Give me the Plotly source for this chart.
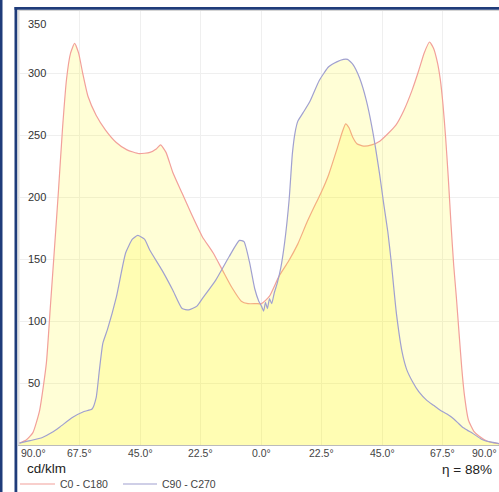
import plotly.graph_objects as go

# ---------------- data ----------------
c0_angles = [-90, -87.5, -85, -82.5, -80, -78.5, -77, -75.5, -74, -72.5, -71, -69.5, -68, -66.5,
             -64.5, -61.5, -58, -54, -50, -45.5, -41.5, -39, -37.5, -35.5, -33, -29.5, -26, -22,
             -18, -14.5, -11, -7.5, -5, -2, 0, 3, 6.5, 10, 13.5, 17, 20.5, 22.5, 25, 28, 30,
             31.3, 32.5, 34, 35.5, 38, 41, 44, 47, 50, 53, 56, 58.5, 60.5, 62.5, 64, 65.5, 66.5,
             67.5, 68.5, 69.5, 70.5, 71.5, 72.5, 73.5, 74.5, 75.5, 77, 79, 81, 84, 87, 90]
c0_values = [1.5, 4, 10, 28, 66, 112, 158, 205, 255, 295, 316, 324, 316, 300,
             281, 266, 254, 244, 238, 235, 236, 239, 242, 236, 220, 203, 186, 168,
             155, 141, 127, 116, 114, 114, 114, 120, 136, 148, 162, 180, 196, 205, 218, 238, 252,
             259, 256, 248, 243, 241, 242, 245, 251, 258, 270, 286, 302, 316, 325, 320, 308, 295,
             275, 248, 215, 178, 145, 119, 90, 62, 40, 20, 11, 7, 3, 1.5, 0.5]

c90_angles = [-90, -86, -81.5, -78, -75, -70.5, -66, -63, -61.5, -60.3, -59, -57.3, -54, -50.5,
              -48, -46, -43.5, -41.5, -37, -33, -29.5, -27, -24, -22, -17, -12, -8.2, -6.5, -4.5,
              -2.5, -1, 0, 0.8, 1.5, 2.2, 3, 3.8, 4.8, 5.8, 7.2, 8.6, 10.3, 11.5, 12.5, 13.5,
              15.5, 18, 21.5, 25, 28, 30.5, 32, 34, 36.5, 39, 41.3, 43.9, 45.5, 47, 48.3, 50.2,
              52.4, 54, 56.2, 58.5, 61.5, 64, 66.5, 69, 71, 73, 74.7, 76.5, 78.5, 82, 85, 90]
c90_values = [1.5, 3.5, 6, 10, 14.5, 22, 27, 29, 38, 60, 82, 93, 119, 155,
              166, 169, 166, 157, 141, 125, 110, 109, 112, 118, 133, 152, 165, 164, 148,
              126, 116, 112, 108, 115, 110, 118, 114, 123, 130, 143, 163, 198, 235, 252, 261,
              268, 277, 294, 305, 309, 311, 311, 307, 296, 278, 254, 219, 194, 172, 147, 106,
              74, 61, 51, 43, 36, 32, 28, 25, 22, 18, 14.5, 12, 9.5, 4.5, 2.5, 0.5]

x_tick_vals = [-90, -67.5, -45, -22.5, 0, 22.5, 45, 67.5, 90]
x_tick_text = ["90.0°", "67.5°", "45.0°", "22.5°", "0.0°", "22.5°", "45.0°", "67.5°", "90.0°"]
y_tick_vals = [50, 100, 150, 200, 250, 300, 350]
y_tick_text = ["50", "100", "150", "200", "250", "300", "350"]

series_names = ["C0 - C180", "C90 - C270"]
unit_label = "cd/klm"
efficiency_label = "η = 88%"

# ---------------- layout geometry ----------------
W, H = 499, 492
ML, MR, MT, MB = 18, 0, 11, 47
PW, PH = W - ML - MR, H - MT - MB


def px(xp):
    return (xp - ML) / PW


def py(yp):
    return (H - MB - yp) / PH


FONT = "Liberation Sans, Arial, sans-serif"
RED = "#F2A09A"
BLUE = "#A0A0D0"
FILL = "rgba(255,248,0,0.16)"

fig = go.Figure()
fig.add_trace(go.Scatter(x=c0_angles, y=c0_values, mode="lines", name=series_names[0],
                         line=dict(color=RED, width=1.2, shape="spline", smoothing=0.5),
                         fill="tozeroy", fillcolor=FILL, showlegend=False, hoverinfo="skip"))
fig.add_trace(go.Scatter(x=c90_angles, y=c90_values, mode="lines", name=series_names[1],
                         line=dict(color=BLUE, width=1.2, shape="spline", smoothing=0.5),
                         fill="tozeroy", fillcolor=FILL, showlegend=False, hoverinfo="skip"))

annotations = []
# y tick labels (inside plot)
for v, t in zip(y_tick_vals, y_tick_text):
    annotations.append(dict(x=px(26), xref="paper", y=v, yref="y", text=t, showarrow=False,
                            xanchor="left", yanchor="middle",
                            yshift=-13 if v == 350 else 0,
                            font=dict(family=FONT, size=11, color="#333333")))
# x tick labels
for i, (v, t) in enumerate(zip(x_tick_vals, x_tick_text)):
    if i == 0:
        a = dict(x=v, xref="x", xanchor="left")
    elif i == len(x_tick_vals) - 1:
        a = dict(x=1.0, xref="paper", xanchor="right")
    else:
        a = dict(x=v, xref="x", xanchor="center")
    a.update(y=py(453), yref="paper", yanchor="middle", text=t, showarrow=False,
             font=dict(family=FONT, size=10.5, color="#444444"))
    annotations.append(a)

annotations.append(dict(x=px(25), xref="paper", y=py(468), yref="paper", text=unit_label,
                        showarrow=False, xanchor="left", yanchor="middle",
                        font=dict(family=FONT, size=13.5, color="#222222")))
annotations.append(dict(x=px(494), xref="paper", y=py(469), yref="paper", text=efficiency_label,
                        showarrow=False, xanchor="right", yanchor="middle",
                        font=dict(family=FONT, size=13.5, color="#222222")))
annotations.append(dict(x=px(58), xref="paper", y=py(484), yref="paper", text=series_names[0],
                        showarrow=False, xanchor="left", yanchor="middle",
                        font=dict(family=FONT, size=10.5, color="#444444")))
annotations.append(dict(x=px(160), xref="paper", y=py(484), yref="paper", text=series_names[1],
                        showarrow=False, xanchor="left", yanchor="middle",
                        font=dict(family=FONT, size=10.5, color="#444444")))

NAVY = "#1F3C7A"
shapes = [
    # legend line samples
    dict(type="line", xref="paper", yref="paper", x0=px(20), x1=px(55), y0=py(484), y1=py(484),
         line=dict(color=RED, width=1.2)),
    dict(type="line", xref="paper", yref="paper", x0=px(123), x1=px(157), y0=py(484), y1=py(484),
         line=dict(color=BLUE, width=1.2)),
    # navy frame
    dict(type="rect", xref="paper", yref="paper", x0=px(0), x1=px(2.5), y0=py(492), y1=py(0),
         fillcolor=NAVY, line=dict(width=0), layer="above"),
    dict(type="rect", xref="paper", yref="paper", x0=px(14.5), x1=px(17.3), y0=py(492), y1=py(7),
         fillcolor=NAVY, line=dict(width=0), layer="above"),
    dict(type="rect", xref="paper", yref="paper", x0=px(14.5), x1=px(499), y0=py(9.7), y1=py(7),
         fillcolor=NAVY, line=dict(width=0), layer="above"),
    # light plot-area border (left & top)
    dict(type="line", xref="paper", yref="paper", x0=px(18.2), x1=px(18.2), y0=0, y1=py(10.5),
         line=dict(color="#D4D4D4", width=1)),
    dict(type="line", xref="paper", yref="paper", x0=px(18.2), x1=1, y0=py(10.5), y1=py(10.5),
         line=dict(color="#D4D4D4", width=1)),
]

fig.update_layout(
    width=W, height=H,
    margin=dict(l=ML, r=MR, t=MT, b=MB, pad=0),
    paper_bgcolor="white", plot_bgcolor="white",
    showlegend=False,
    xaxis=dict(range=[-90.55, 88.35], tickvals=x_tick_vals, showticklabels=False,
               showgrid=True, gridcolor="#EFEFEF", gridwidth=1, zeroline=False,
               showline=True, linecolor="#BBBBBB", linewidth=1, ticks="", fixedrange=True),
    yaxis=dict(range=[0, 350], tickvals=y_tick_vals, showticklabels=False,
               showgrid=True, gridcolor="#EFEFEF", gridwidth=1, zeroline=False,
               showline=False, ticks="", fixedrange=True),
    annotations=annotations,
    shapes=shapes,
)

fig.write_html("out.html", config={"displayModeBar": False},
               post_script="document.body.style.margin='0';document.body.style.overflow='hidden';")
